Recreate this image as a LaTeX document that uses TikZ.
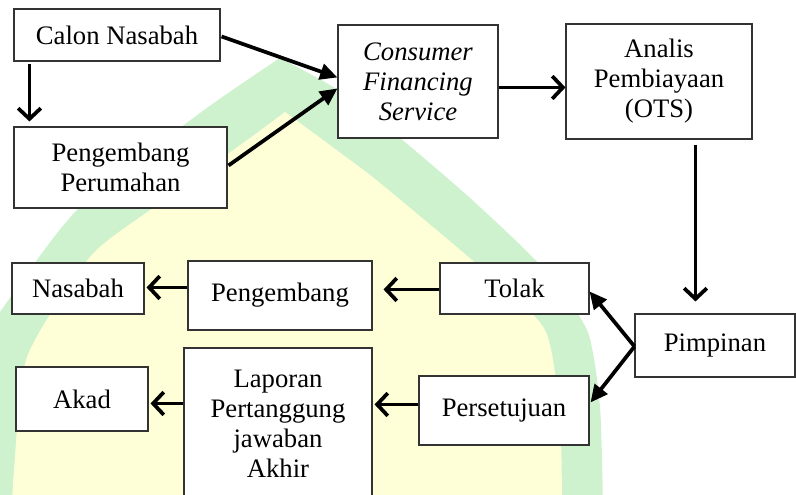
\documentclass[tikz,border=0pt]{standalone}
\usepackage{fontspec}
\setmainfont{Liberation Serif}
\usetikzlibrary{arrows.meta,calc}
\definecolor{wmgreen}{RGB}{206,242,206}
\definecolor{wmyellow}{RGB}{255,255,215}
\def\px{0.75pt}
\begin{document}
\begin{tikzpicture}[x=0.75pt,y=-0.75pt,
  box/.style={draw=black!80, line width=0.8pt, fill=white, inner sep=0pt, align=center,
    font=\fontsize{20}{22.5}\selectfont},
  openarrow/.style={line width=2.8pt, -{Straight Barb[length=8pt,width=17pt]}},
  fillarrow/.style={line width=2.8pt, -{Triangle[length=13pt,width=12pt]}}]
\useasboundingbox (0,0) rectangle (796,495);
\fill[white] (0,0) rectangle (796,495);
% watermark
\fill[wmgreen] (-20,510) -- plot[smooth, tension=0.4] coordinates {(-20,345) (0,312) (77,210) (200,113) (280,58)}
  -- plot[smooth, tension=0.4] coordinates {(280,58) (338,90) (400,138) (470,198) (540,265) (587,330) (600,407) (603,510)} -- cycle;
\fill[wmyellow] (12,510) -- plot[smooth, tension=0.4] coordinates {(12,510) (14,470) (27,357) (90,257) (150,210) (250,138) (285,112)}
  -- plot[smooth, tension=0.4] coordinates {(285,112) (350,160) (380,183) (480,267) (545,330) (560,420) (562,510)} -- cycle;
% nodes
\node[box, minimum width=206*\px, minimum height=52*\px] (calon) at (117,35) {Calon Nasabah};
\node[box, minimum width=213*\px, minimum height=81*\px] (perum) at (120.5,167.5) {Pengembang\\Perumahan};
\node[box, minimum width=160*\px, minimum height=113*\px] (cfs) at (418,81.5) {\itshape Consumer\\\itshape Financing\\\itshape Service};
\node[box, minimum width=186*\px, minimum height=115*\px] (analis) at (659,81.5) {Analis\\Pembiayaan\\(OTS)};
\node[box, minimum width=160*\px, minimum height=63*\px] (pimpinan) at (715,345.5) {Pimpinan};
\node[box, minimum width=149*\px, minimum height=51*\px] (tolak) at (514.5,288.5) {Tolak};
\node[box, minimum width=170*\px, minimum height=69*\px] (setuju) at (504,410.5) {Persetujuan};
\node[box, minimum width=184*\px, minimum height=69*\px] (pengembang) at (280,295.5) {Pengembang};
\node[box, minimum width=188*\px, minimum height=152*\px] (laporan) at (278,424) {Laporan\\Pertanggung\\jawaban\\Akhir};
\node[box, minimum width=132*\px, minimum height=51*\px] (nasabah) at (78,288.5) {Nasabah};
\node[box, minimum width=132*\px, minimum height=64*\px] (akad) at (82,399) {Akad};
% connectors
\draw[openarrow] ($(calon.south west)+(16,2)$) -- ($(perum.north west)+(16,-5)$);
\draw[fillarrow] ($(calon.north east)+(1,28)$) -- ($(cfs.north west)+(0,53)$);
\draw[fillarrow] ($(perum.north east)+(1,39)$) -- ($(cfs.north west)+(0,64)$);
\draw[openarrow] ($(cfs.north east)+(0,63)$) -- ($(analis.north west)+(0,64)$);
\draw[openarrow] ($(analis.south west)+(130,5)$) -- ($(pimpinan.north west)+(61,-12)$);
\coordinate (pleft) at ($(pimpinan.north west)+(0,33)$);
\draw[fillarrow] (pleft) -- ($(tolak.north east)+(0,29)$);
\draw[fillarrow] (pleft) -- ($(setuju.north east)+(1,27)$);
\draw[openarrow] ($(tolak.north west)+(0,27)$) -- ($(pengembang.north east)+(11,29)$);
\draw[openarrow] ($(setuju.north west)+(0,29)$) -- ($(laporan.north east)+(2,57)$);
\draw[openarrow] ($(pengembang.north west)+(0,27)$) -- ($(nasabah.north east)+(2,25)$);
\draw[openarrow] ($(laporan.north west)+(0,56)$) -- ($(akad.north east)+(2,37)$);
\end{tikzpicture}
\end{document}
